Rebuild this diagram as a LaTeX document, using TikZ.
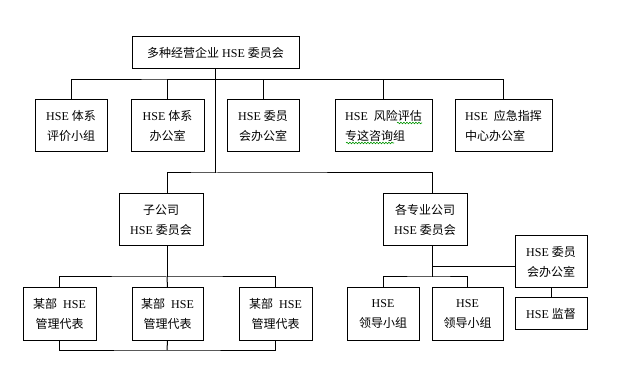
\documentclass[tikz,border=0pt]{standalone}
\usepackage{fontspec}
\setmainfont{Liberation Serif}
\newfontfamily\cjk{Noto Sans CJK SC}
\usetikzlibrary{decorations.pathmorphing}
\definecolor{spellgreen}{RGB}{0,150,0}
\newcommand{\zh}[1]{{\cjk #1}}
\begin{document}
\begin{tikzpicture}[x=1pt,y=-1pt,
  box/.style={draw,line width=1pt,inner sep=0pt,align=center,
    font=\fontsize{12}{20}\selectfont},
  lbox/.style={box,align=left},
  conn/.style={line width=1pt},
  wavy/.style={spellgreen,line width=0.6pt,decorate,
    decoration={snake,amplitude=0.8pt,segment length=3pt}}]
\useasboundingbox[fill=white] (0,0) rectangle (621,387);
% top
\node[box,minimum width=167pt,minimum height=32pt] (top) at (215.5,53) {\zh{多种经营企业} HSE \zh{委员会}};
% row 2
\node[box,minimum width=72pt,minimum height=52pt] (b1) at (71,126) {HSE \zh{体系}\\\zh{评价小组}};
\node[box,minimum width=73pt,minimum height=52pt] (b2) at (167.5,126) {HSE \zh{体系}\\\zh{办公室}};
\node[box,minimum width=72pt,minimum height=52pt] (b3) at (263,126) {HSE \zh{委员}\\\zh{会办公室}};
\node[lbox,minimum width=97pt,minimum height=52pt] (b4) at (383.5,126) {HSE\ \ \zh{风险评估}\\\zh{专这咨询组}};
\node[lbox,minimum width=97pt,minimum height=52pt] (b5) at (503.5,126) {HSE\ \ \zh{应急指挥}\\\zh{中心办公室}};
% row 3
\node[box,minimum width=84pt,minimum height=52pt] (s1) at (161,220) {\zh{子公司}\\HSE \zh{委员会}};
\node[box,minimum width=84pt,minimum height=52pt] (s2) at (425,220) {\zh{各专业公司}\\HSE \zh{委员会}};
% row 4
\node[box,minimum width=73pt,minimum height=52pt] (m1) at (59.5,314) {\zh{某部}\ \ HSE\\\zh{管理代表}};
\node[box,minimum width=71pt,minimum height=52pt] (m2) at (167.5,314) {\zh{某部}\ \ HSE\\\zh{管理代表}};
\node[box,minimum width=73pt,minimum height=52pt] (m3) at (275.5,314) {\zh{某部}\ \ HSE\\\zh{管理代表}};
\node[box,minimum width=72pt,minimum height=52pt] (l1) at (383,314) {HSE\\\zh{领导小组}};
\node[box,minimum width=71pt,minimum height=52pt] (l2) at (467.5,314) {HSE\\\zh{领导小组}};
\node[box,minimum width=72pt,minimum height=52pt] (off) at (551,262) {HSE \zh{委员}\\\zh{会办公室}};
\node[box,minimum width=72pt,minimum height=31pt] (sup) at (551,313.5) {HSE \zh{监督}};
% junctions
\coordinate (bus1) at (215.5,80);
\coordinate (j2) at (215.5,173);
\coordinate (j3) at (167,277);
\coordinate (j4) at (167,350);
\coordinate (j5) at (432,277);
\coordinate (j6) at (432,267);
% connectors
\draw[conn] (top.south) -- (j2);
\draw[conn] (b1.north) |- (bus1) -| (b5.north);
\draw[conn] (b2.north) |- (bus1);
\draw[conn] (b3.north) |- (bus1);
\draw[conn] (b4.north) |- (bus1);
\draw[conn] ([xshift=6pt]s1.north) |- (j2) -| ([xshift=7pt]s2.north);
\draw[conn] ([xshift=6pt]s1.south) -- (j3);
\draw[conn] (m1.north) |- (j3) -| (m3.north);
\draw[conn] (m2.north) -- (j3);
\draw[conn] (m1.south) |- (j4) -| (m3.south);
\draw[conn] (m2.south) -- (j4);
\draw[conn] ([xshift=7pt]s2.south) -- (j5);
\draw[conn] (l1.north) |- (j5) -| (l2.north);
\draw[conn] (j6) -- (j6 -| off.west);
\draw[conn] (off.south) -- (sup.north);
% spell-check marks
\draw[wavy] (397,123) -- (422,123);
\draw[wavy] (346,143) -- (394,143);
\end{tikzpicture}
\end{document}
